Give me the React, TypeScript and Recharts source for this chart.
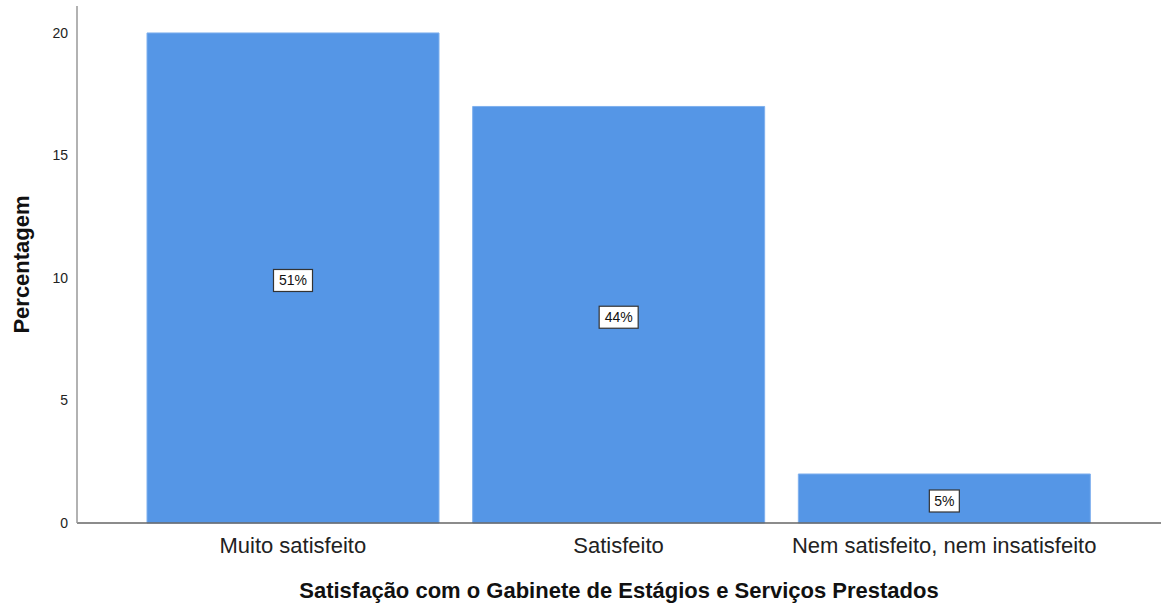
import React from 'react';
import { BarChart, Bar, XAxis, YAxis, LabelList, Label } from 'recharts';

const categories = ['Muito satisfeito', 'Satisfeito', 'Nem satisfeito, nem insatisfeito'];
const percentValues = [20, 17, 2];
const percentLabels = ['51%', '44%', '5%'];
const yTicks = [0, 5, 10, 15, 20];

const data = categories.map((c, i) => ({ name: c, value: percentValues[i], label: percentLabels[i] }));

const FONT = '"Liberation Sans", Arial, sans-serif';

const BoxLabel = (props: any) => {
  const { x, y, width, height, value } = props;
  const cx = x + width / 2;
  const cy = y + height / 2 + 2.5;
  const w = String(value).length * 9 + 12;
  const h = 22;
  return (
    <g>
      <rect x={cx - w / 2} y={cy - h / 2} width={w} height={h} fill="#fff" stroke="#333" strokeWidth={1.2} />
      <text x={cx} y={cy + 5} textAnchor="middle" fontFamily={FONT} fontSize={14} fill="#111">{value}</text>
    </g>
  );
};

export default function App() {
  return (
    <div style={{ position: 'absolute', left: 0, top: 0, background: '#fff' }}>
      <BarChart width={1163} height={605} data={data} margin={{ top: 6, right: 2, left: 0, bottom: 0 }} barSize={292}>
        <XAxis
          dataKey="name"
          height={82}
          padding={{ left: 53, right: 54 }}
          tickLine={false}
          tickSize={0}
          tickMargin={14}
          stroke="#666"
          strokeWidth={1.5}
          tick={{ fontFamily: FONT, fontSize: 22, fill: '#222' }}
        >
          <Label value="Satisfação com o Gabinete de Estágios e Serviços Prestados" position="insideBottom" offset={7}
            style={{ fontFamily: FONT, fontSize: 22, fontWeight: 'bold', fill: '#111' }} />
        </XAxis>
        <YAxis
          width={77}
          domain={[0, 21.1]}
          ticks={yTicks}
          tickLine={false}
          tickSize={0}
          tickMargin={9}
          stroke="#999"
          strokeWidth={1.5}
          tick={{ fontFamily: FONT, fontSize: 14, fill: '#222' }}
        >
          <Label value="Percentagem" angle={-90} position="insideLeft" offset={21}
            style={{ textAnchor: 'middle', fontFamily: FONT, fontSize: 22, fontWeight: 'bold', fill: '#111' }} />
        </YAxis>
        <Bar dataKey="value" fill="#5596E6" stroke="#7FB0EE" strokeWidth={1} isAnimationActive={false}>
          <LabelList dataKey="label" content={BoxLabel} />
        </Bar>
      </BarChart>
    </div>
  );
}
